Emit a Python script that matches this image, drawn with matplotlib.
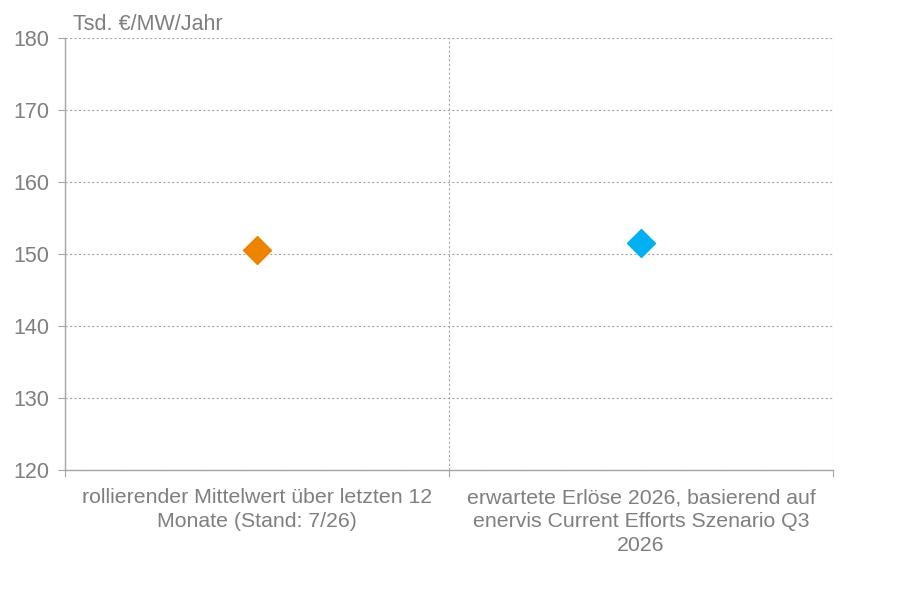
import matplotlib.pyplot as plt
from matplotlib.ticker import FixedLocator

plt.rcParams['font.family'] = ['Liberation Sans', 'DejaVu Sans']

# Data
categories = ['rollierender Mittelwert über letzten 12\nMonate (Stand: 7/26)',
              'erwartete Erlöse 2026, basierend auf\nenervis Current Efforts Szenario Q3\n2026']
values = [150.6, 151.5]
colors = ['#ED8400', '#00B0F0']
y_ticks = [120, 130, 140, 150, 160, 170, 180]
unit_label = 'Tsd. €/MW/Jahr'

grey = '#7f7f7f'
line_grey = '#a6a6a6'

fig = plt.figure(figsize=(8.99, 5.91), dpi=100)
ax = fig.add_axes([65 / 899, 1 - 470 / 591, 768 / 899, 432 / 591])

xpos = [i + 0.5 for i in range(len(categories))]
for x, v, c in zip(xpos, values, colors):
    ax.plot([x], [v], marker='D', markersize=14.5, color=c, linestyle='none', zorder=3)

ax.set_xlim(0, len(categories))
ax.set_ylim(120, 180)
ax.set_yticks(y_ticks)

# category labels at centres, tick marks / grid at boundaries
ax.set_xticks(xpos)
ax.set_xticklabels(categories, fontsize=15.3, color=grey, linespacing=1.33)
ax.tick_params(axis='x', which='major', length=0, pad=13)
ax.xaxis.set_minor_locator(FixedLocator(list(range(len(categories) + 1))))
ax.tick_params(axis='x', which='minor', length=5, color=line_grey, width=0.8)
ax.grid(axis='x', which='minor', color=line_grey, linestyle=(0, (2, 2)), linewidth=0.8)

ax.tick_params(axis='y', length=5, color=line_grey, width=0.8, labelsize=15.5,
               labelcolor=grey, pad=6)
ax.grid(axis='y', which='major', color=line_grey, linestyle=(0, (2, 2)), linewidth=0.8)

for side in ['top', 'right']:
    ax.spines[side].set_visible(False)
for side in ['left', 'bottom']:
    ax.spines[side].set_color(line_grey)
    ax.spines[side].set_linewidth(1.0)

ax.text(8 / 768, 1.006, unit_label, transform=ax.transAxes, fontsize=15.5,
        color=grey, ha='left', va='bottom')

fig.savefig('out.png', dpi=100)
